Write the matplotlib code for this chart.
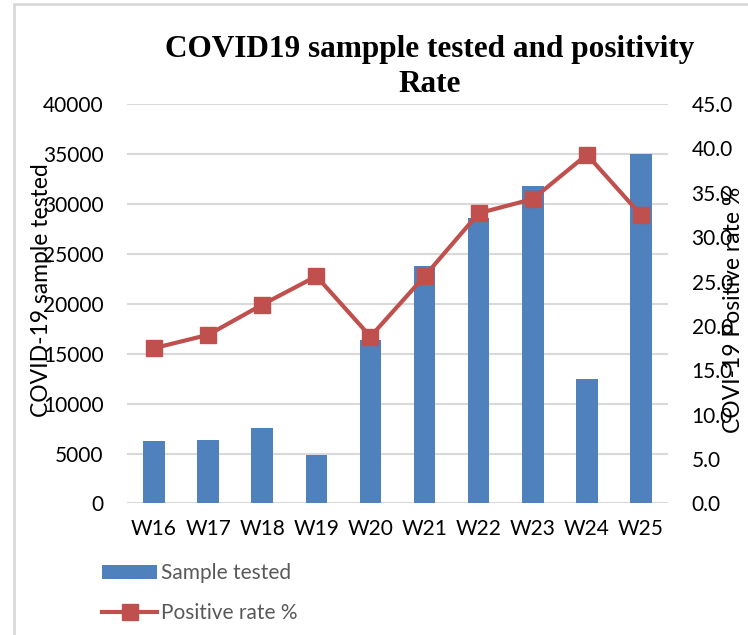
import matplotlib.pyplot as plt
import matplotlib.patches as mpatches
import numpy as np

########################################################################
# Data.
weeks = ["W16", "W17", "W18", "W19", "W20", "W21", "W22", "W23", "W24", "W25"]
samples_tested = [6300, 6400, 7570, 4870, 16400, 23830, 28570, 31830, 12500, 35000]
positive_rate = [17.5, 19.0, 22.4, 25.6, 18.8, 25.6, 32.7, 34.3, 39.3, 32.5]

left_ticks = [0, 5000, 10000, 15000, 20000, 25000, 30000, 35000, 40000]
right_ticks = [0, 5, 10, 15, 20, 25, 30, 35, 40, 45]

########################################################################
blue = "#4F81BD"
red = "#C0504D"
grid = "#D9D9D9"
font = "Lato"

fig = plt.figure(figsize=(7.48, 6.35), dpi=100)
ax = fig.add_axes([0.1698, 0.2071, 0.7233, 0.6291])
ax2 = ax.twinx()

x = np.arange(len(weeks))
ax.bar(x, samples_tested, width=0.4, color=blue, zorder=2, label="Sample tested")
ax2.plot(x, positive_rate, color=red, linewidth=3, marker="s", markersize=11,
         zorder=3, label="Positive rate %")

ax.set_xlim(-0.5, len(weeks) - 0.5)
ax.set_ylim(0, 40000)
ax2.set_ylim(0, 45)
ax.set_yticks(left_ticks)
ax.set_yticklabels([str(v) for v in left_ticks], fontsize=15, family=font)
ax2.set_yticks(right_ticks)
ax2.set_yticklabels(["%.1f" % v for v in right_ticks], fontsize=15, family=font)
ax.set_xticks(x)
ax.set_xticklabels(weeks, fontsize=15, family=font)

ax.yaxis.grid(True, color=grid, linewidth=1.5, zorder=0)
ax.set_axisbelow(True)
for a in (ax, ax2):
    for s in a.spines.values():
        s.set_visible(False)
ax.tick_params(axis="y", length=0, pad=17)
ax.tick_params(axis="x", length=0, pad=11)
ax2.tick_params(axis="y", length=0, pad=17)

# axis titles (they overlap the tick labels in the original)
fig.text(42 / 748, (635 - 290) / 635, "COVID-19 sample tested", rotation=90,
         ha="center", va="center", fontsize=16.5, family=font)
fig.text(733 / 748, (635 - 310) / 635, "COVI-19 Positive rate %", rotation=90,
         ha="center", va="center", fontsize=16.5, family=font)

# title
fig.text(430 / 748, (635 - 67) / 635, "COVID19 sampple tested and positivity\nRate",
         ha="center", va="center", fontsize=22.5, fontweight="bold",
         family="Liberation Serif", linespacing=1.25)

# legend below the plot
h1, l1 = ax.get_legend_handles_labels()
h2, l2 = ax2.get_legend_handles_labels()
leg = fig.legend(h1 + h2, l1 + l2, loc="upper left",
                 bbox_to_anchor=(92 / 748, (635 - 553) / 635),
                 frameon=False, borderpad=0, handlelength=2.6, handletextpad=0.2,
                 labelspacing=0.95, prop={"family": font, "size": 15})
for t in leg.get_texts():
    t.set_color("#595959")

# light frame around the chart
frame = mpatches.Rectangle((14 / 748, -0.1), 1.0, (635 - 4) / 635 + 0.1,
                           transform=fig.transFigure, fill=False,
                           edgecolor=grid, linewidth=2)
fig.patches.append(frame)

fig.savefig("out.png", dpi=100)
